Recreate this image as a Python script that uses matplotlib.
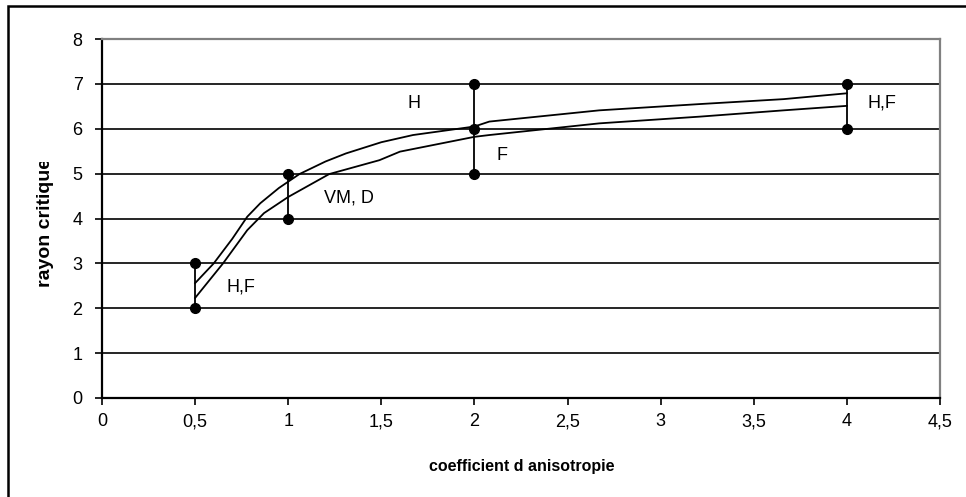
import matplotlib.pyplot as plt
from matplotlib.patches import Rectangle
from matplotlib.transforms import Bbox

plt.rcParams['font.family'] = ['Liberation Sans', 'DejaVu Sans']

# upper and lower limit curves
x_upper = [0.5, 0.6, 0.7, 0.78, 0.85, 0.95, 1.06, 1.2, 1.31, 1.5, 1.67, 2.0, 2.08, 2.67, 3.21, 3.66, 4.0]
y_upper = [2.56, 3.0, 3.55, 4.04, 4.34, 4.68, 4.99, 5.27, 5.45, 5.7, 5.86, 6.05, 6.16, 6.41, 6.55, 6.66, 6.79]
x_lower = [0.5, 0.65, 0.78, 0.87, 1.0, 1.22, 1.49, 1.6, 2.0, 2.08, 2.67, 3.21, 3.66, 4.0]
y_lower = [2.23, 3.0, 3.74, 4.12, 4.48, 4.99, 5.3, 5.49, 5.82, 5.86, 6.12, 6.27, 6.41, 6.51]

# measured ranges (vertical bars) and extra point
bar_x = [0.5, 1, 2, 4]
bar_low = [2, 4, 5, 6]
bar_high = [3, 5, 7, 7]
mid_x = [2]
mid_y = [6]

labels = ["H,F", "VM, D", "H", "F", "H,F"]
label_x = [0.67, 1.19, 1.64, 2.12, 4.11]
label_y = [2.47, 4.45, 6.56, 5.41, 6.58]

fig = plt.figure(figsize=(9.66, 4.97), dpi=100)
ax = fig.add_axes([102/966, 1 - 398/497, 838/966, 359/497])

for y in range(1, 8):
    ax.axhline(y, color='black', lw=1.2, zorder=1)
ax.axhline(8, color='#808080', lw=1.2, zorder=1)

ax.plot(x_upper, y_upper, color='black', lw=1.3, zorder=2)
ax.plot(x_lower, y_lower, color='black', lw=1.3, zorder=2)

for bx, lo, hi in zip(bar_x, bar_low, bar_high):
    ax.plot([bx, bx], [lo, hi], color='black', lw=1.3, marker='o', ms=7, zorder=3)
ax.plot(mid_x, mid_y, 'o', color='black', ms=7, zorder=3)

for t, lx, ly in zip(labels, label_x, label_y):
    ax.text(lx, ly, t, fontsize=13, ha='left', va='center')

ax.set_xlim(0, 4.5)
ax.set_ylim(0, 8)
ax.set_xticks([0, 0.5, 1, 1.5, 2, 2.5, 3, 3.5, 4, 4.5])
ax.set_xticklabels(['0', '0,5', '1', '1,5', '2', '2,5', '3', '3,5', '4', '4,5'])
ax.set_yticks(range(0, 9))
ax.tick_params(axis='both', labelsize=13, length=5, width=1.2, direction='out')
ax.tick_params(axis='x', pad=6)
ax.tick_params(axis='y', pad=9)

for side in ['left', 'bottom']:
    ax.spines[side].set_color('black')
    ax.spines[side].set_linewidth(1.6)
for side in ['top', 'right']:
    ax.spines[side].set_color('#808080')
    ax.spines[side].set_linewidth(1.6)

fig.text(522/966, 1 - 467/497, 'coefficient d anisotropie', fontsize=11.5,
         fontweight='bold', ha='center', va='center')
# y label box is too short, so the end of the text is cut off
ylab = fig.text(45/966, 1 - 287/497, 'rayon critique', fontsize=14,
                fontweight='bold', rotation=90, ha='center', va='bottom')
ylab.set_clip_box(Bbox.from_extents(0, 0, 966, 497 - 162))
ylab.set_clip_on(True)

# outer frame of the chart
fig.patches.append(Rectangle((8/966, -0.2), 1.2, 1.2 - 6/497,
                             transform=fig.transFigure, fill=False,
                             edgecolor='black', lw=1.8, clip_on=False))

fig.savefig('out.png', dpi=100)
